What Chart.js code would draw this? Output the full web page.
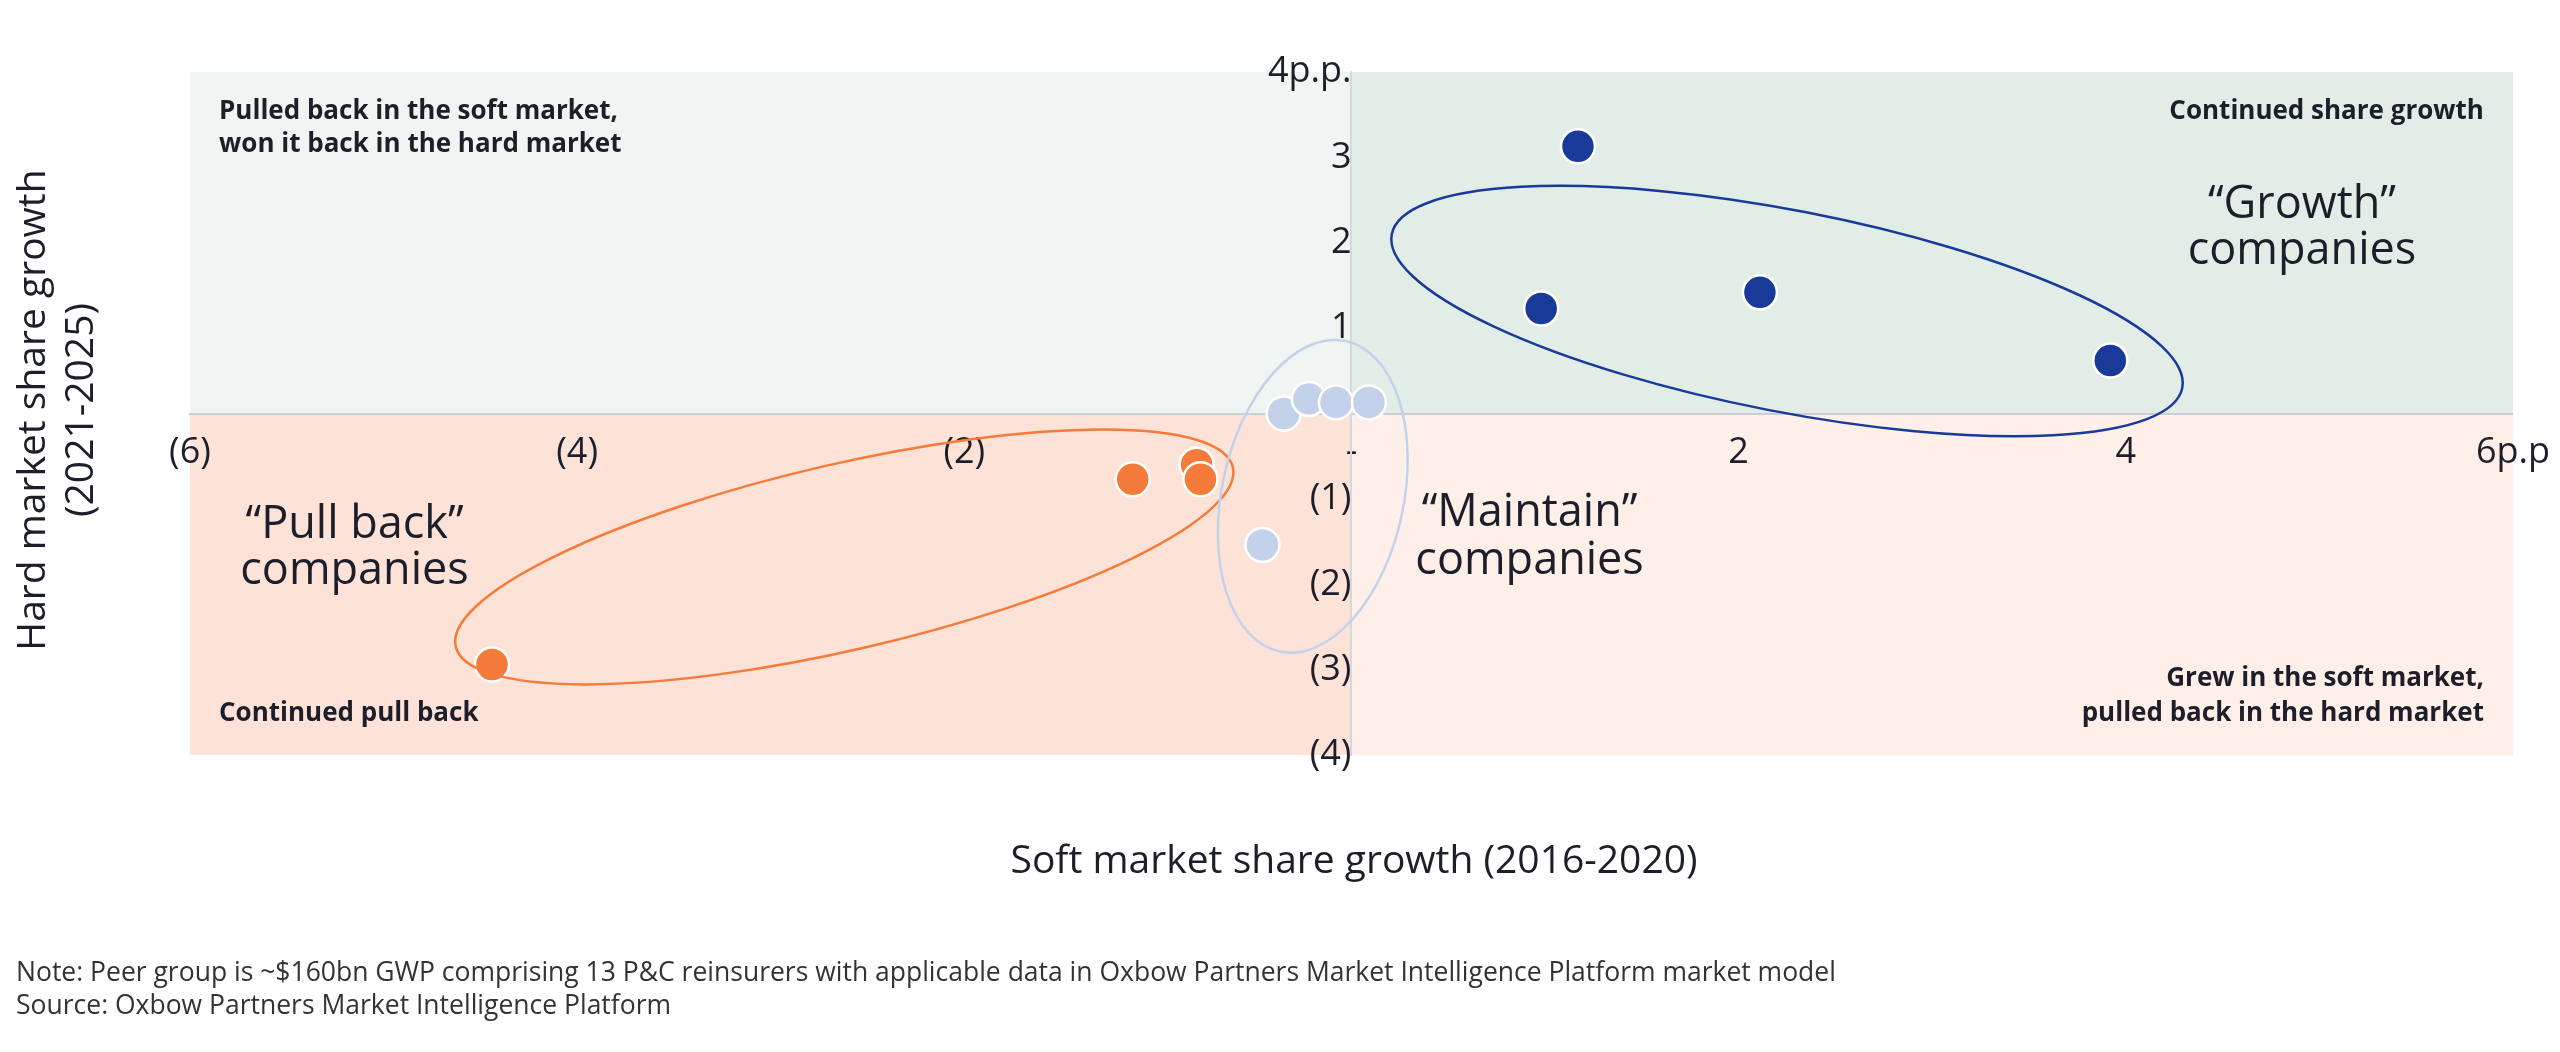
<!DOCTYPE html>
<html>
<head>
<meta charset="utf-8">
<script src="https://cdn.jsdelivr.net/npm/chart.js@4"></script>
<style>
html, body { margin: 0; padding: 0; background: #fff; }
#wrap { width: 2560px; height: 1052px; }
</style>
</head>
<body>
<div id="wrap"><canvas id="chart"></canvas></div>
<script>
const growthPoints = [
    {x: 1.17, y: 3.13}, {x: 0.98, y: 1.23}, {x: 2.11, y: 1.42}, {x: 3.92, y: 0.62}
];
const maintainPoints = [
    {x: -0.35, y: 0.0}, {x: -0.22, y: 0.17}, {x: -0.08, y: 0.13}, {x: 0.09, y: 0.13}, {x: -0.46, y: -1.54}
];
const pullBackPoints = [
    {x: -1.13, y: -0.77}, {x: -0.8, y: -0.6}, {x: -0.78, y: -0.77}, {x: -4.44, y: -2.94}
];
const xTickLabels = {'-6': '(6)', '-4': '(4)', '-2': '(2)', '0': '-', '2': '2', '4': '4', '6': '6p.p'};
const yTickLabels = {'4': '4p.p.', '3': '3', '2': '2', '1': '1', '0': '', '-1': '(1)', '-2': '(2)', '-3': '(3)', '-4': '(4)'};

// ellipses: centre in data units, radii in x-units, angle in degrees
const ellipses = [
    {cx: 2.25, cy: 1.2, rx: 2.08, ry: 0.52, angle: 11, color: '#1a3a9a'},
    {cx: -2.62, cy: -1.68, rx: 2.06, ry: 0.48, angle: -13, color: '#f47b3a'},
    {cx: -0.2, cy: -0.97, rx: 0.47, ry: 0.82, angle: 12, color: '#c3d2ea'}
];
const groupLabels = [
    {x: 4.91, y: 2.44, text: '“Growth”'}, {x: 4.91, y: 1.9, text: 'companies'},
    {x: -5.15, y: -1.31, text: '“Pull back”'}, {x: -5.15, y: -1.85, text: 'companies'},
    {x: 0.92, y: -1.17, text: '“Maintain”'}, {x: 0.92, y: -1.73, text: 'companies'}
];
const quadrantLabels = [
    {x: -5.85, y: 3.54, text: 'Pulled back in the soft market,', align: 'left'},
    {x: -5.85, y: 3.15, text: 'won it back in the hard market', align: 'left'},
    {x: 5.85, y: 3.54, text: 'Continued share growth', align: 'right'},
    {x: 5.85, y: -3.1, text: 'Grew in the soft market,', align: 'right'},
    {x: 5.85, y: -3.52, text: 'pulled back in the hard market', align: 'right'},
    {x: -5.85, y: -3.52, text: 'Continued pull back', align: 'left'}
];
const FONT = '"Open Sans", "Noto Sans", sans-serif';

const backgrounds = {
    id: 'backgrounds',
    beforeDraw(chart) {
        const {ctx, scales: {x, y}} = chart;
        const x0 = x.getPixelForValue(0), y0 = y.getPixelForValue(0);
        const l = x.getPixelForValue(-6), r = x.getPixelForValue(6);
        const t = y.getPixelForValue(4), b = y.getPixelForValue(-4);
        ctx.save();
        ctx.fillStyle = '#eef5f2'; ctx.fillRect(l, t, x0 - l, y0 - t);
        ctx.fillStyle = '#e2ede7'; ctx.fillRect(x0, t, r - x0, y0 - t);
        ctx.fillStyle = '#fde3d7'; ctx.fillRect(l, y0, x0 - l, b - y0);
        ctx.fillStyle = '#fef0e9'; ctx.fillRect(x0, y0, r - x0, b - y0);
        ctx.restore();
    }
};

const overlays = {
    id: 'overlays',
    afterDatasetsDraw(chart) {
        const {ctx, scales: {x, y}} = chart;
        const unit = x.getPixelForValue(1) - x.getPixelForValue(0);
        ctx.save();
        ellipses.forEach(e => {
            ctx.beginPath();
            ctx.ellipse(x.getPixelForValue(e.cx), y.getPixelForValue(e.cy), e.rx * unit, e.ry * unit,
                e.angle * Math.PI / 180, 0, Math.PI * 2);
            ctx.strokeStyle = e.color;
            ctx.lineWidth = 2.5;
            ctx.stroke();
        });
        ctx.fillStyle = '#1c1f2a';
        ctx.textBaseline = 'middle';
        ctx.font = '45px ' + FONT;
        ctx.textAlign = 'center';
        groupLabels.forEach(g => ctx.fillText(g.text, x.getPixelForValue(g.x), y.getPixelForValue(g.y)));
        ctx.font = 'bold 26px ' + FONT;
        quadrantLabels.forEach(q => {
            ctx.textAlign = q.align;
            ctx.fillText(q.text, x.getPixelForValue(q.x), y.getPixelForValue(q.y));
        });
        ctx.restore();
    },
    afterDraw(chart) {
        const {ctx} = chart;
        ctx.save();
        ctx.fillStyle = '#1c1f2a';
        ctx.textBaseline = 'middle';
        ctx.font = '39px ' + FONT;
        ctx.textAlign = 'center';
        ctx.fillText('Soft market share growth (2016-2020)', 1354, 862);
        ctx.save();
        ctx.translate(34, 410);
        ctx.rotate(-Math.PI / 2);
        ctx.fillText('Hard market share growth', 0, 0);
        ctx.fillText('(2021-2025)', 0, 48);
        ctx.restore();
        ctx.font = '26.5px ' + FONT;
        ctx.textAlign = 'left';
        ctx.fillStyle = '#333';
        ctx.fillText('Note: Peer group is ~$160bn GWP comprising 13 P&C reinsurers with applicable data in Oxbow Partners Market Intelligence Platform market model', 16, 973);
        ctx.fillText('Source: Oxbow Partners Market Intelligence Platform', 16, 1006);
        ctx.restore();
    }
};

function pointSet(data, color) {
    return {
        data: data,
        backgroundColor: color,
        borderColor: '#ffffff',
        borderWidth: 2.5,
        pointRadius: 17,
        pointHoverRadius: 17
    };
}

new Chart(document.getElementById('chart'), {
    type: 'scatter',
    data: {
        datasets: [
            pointSet(maintainPoints, '#c3d2ea'),
            pointSet(pullBackPoints, '#f47b3a'),
            pointSet(growthPoints, '#1a3a9a')
        ]
    },
    options: {
        responsive: true,
        maintainAspectRatio: false,
        animation: false,
        layout: {padding: {left: 190, right: 36, top: 72, bottom: 297}},
        plugins: {legend: {display: false}, tooltip: {enabled: false}},
        scales: {
            x: {
                type: 'linear', min: -6, max: 6, position: {y: 0},
                grid: {display: false},
                border: {color: '#c9cfd5', width: 2},
                ticks: {
                    stepSize: 2, padding: 10, color: '#1c1f2a',
                    font: {size: 36, family: FONT},
                    callback: v => xTickLabels[String(v)]
                }
            },
            y: {
                type: 'linear', min: -4, max: 4, position: {x: 0},
                grid: {display: false},
                border: {color: '#d3d9de', width: 2},
                ticks: {
                    stepSize: 1, padding: 12, color: '#1c1f2a',
                    font: {size: 36, family: FONT},
                    callback: v => yTickLabels[String(v)]
                }
            }
        }
    },
    plugins: [backgrounds, overlays]
});
</script>
</body>
</html>
